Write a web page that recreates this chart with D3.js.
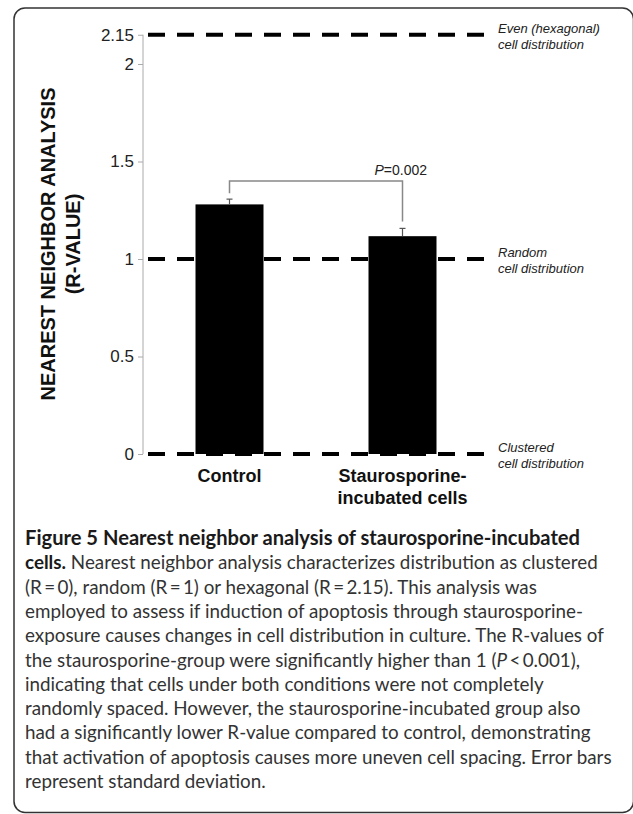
<!DOCTYPE html>
<html>
<head>
<meta charset="utf-8">
<script src="https://cdn.jsdelivr.net/npm/d3@7"></script>
<style>
  body { margin: 0; background: #fff; }
  svg { display: block; }
</style>
</head>
<body>
<div id="chart"></div>
<script>
// data
var categories = ["Control", "Staurosporine-\nincubated cells"];
var means = [1.28, 1.117];
var sds = [0.027, 0.04];
var refValues = [2.15, 1, 0];
var refLabels = [["Even (hexagonal)", "cell distribution"], ["Random", "cell distribution"], ["Clustered", "cell distribution"]];
var tickValues = [0, 0.5, 1, 1.5, 2, 2.15];
var pText = "0.002";
var bracketLevel = 1.40;

var width = 633,
    height = 814

var svg = d3.select("#chart").append("svg")
    .attr("width", width)
    .attr("height", height)

// frame (right side runs off the page like the original scan)
svg.append("rect")
    .attr("x", 14)
    .attr("y", 8)
    .attr("width", 619.5)
    .attr("height", 804.5)
    .attr("rx", 11)
    .attr("fill", "none")
    .attr("stroke", "#333")
    .attr("stroke-width", 1.5)

var y = d3.scaleLinear().domain([0, 1]).range([454, 259]);
var x = d3.scaleBand().domain(categories).range([143, 489])
    .paddingInner(0.607).paddingOuter(0.3035);

var chart = svg.append("g")

// y axis
var yAxis = chart.append("g")
    .attr("transform", "translate(143,0)")
    .call(d3.axisLeft(y).tickValues(tickValues).tickSize(5).tickPadding(4)
        .tickFormat(function(d) { return d === 2.15 ? "2.15" : String(d); }))
yAxis.select(".domain").attr("stroke", "#aaa").attr("d", "M-0," + y(2.15) + "V" + y(0))
yAxis.selectAll(".tick line").attr("stroke", "#aaa")
yAxis.selectAll(".tick text")
    .attr("font-family", "Liberation Sans, Arial, sans-serif")
    .attr("font-size", 17)
    .attr("fill", "#222")

// reference dashed lines
chart.selectAll(".ref").data(refValues).enter().append("line")
    .attr("class", "ref")
    .attr("x1", 148)
    .attr("x2", 486)
    .attr("y1", function(d) { return y(d); })
    .attr("y2", function(d) { return y(d); })
    .attr("stroke", "#000")
    .attr("stroke-width", 4)
    .attr("stroke-dasharray", "17,12")

refValues.forEach(function(v, i) {
    var t = chart.append("text")
        .attr("x", 498)
        .attr("font-family", "Liberation Sans, Arial, sans-serif")
        .attr("font-style", "italic")
        .attr("font-size", 13)
        .attr("fill", "#222")
    t.append("tspan").attr("x", 498).attr("y", y(v) - 2).text(refLabels[i][0])
    t.append("tspan").attr("x", 498).attr("y", y(v) + 14).text(refLabels[i][1])
});

// bars
chart.selectAll(".bar").data(means).enter().append("rect")
    .attr("class", "bar")
    .attr("x", function(d, i) { return x(categories[i]); })
    .attr("y", function(d) { return y(d); })
    .attr("width", x.bandwidth())
    .attr("height", function(d) { return y(0) - y(d); })
    .attr("fill", "#000")

// error bars
means.forEach(function(m, i) {
    var cx = x(categories[i]) + x.bandwidth() / 2;
    chart.append("line")
        .attr("x1", cx).attr("x2", cx)
        .attr("y1", y(m)).attr("y2", y(m + sds[i]))
        .attr("stroke", "#555").attr("stroke-width", 1.2)
    chart.append("line")
        .attr("x1", cx - 3).attr("x2", cx + 3)
        .attr("y1", y(m + sds[i])).attr("y2", y(m + sds[i]))
        .attr("stroke", "#555").attr("stroke-width", 1.2)
});

// significance bracket
var c0 = x(categories[0]) + x.bandwidth() / 2,
    c1 = x(categories[1]) + x.bandwidth() / 2,
    bracketY = y(bracketLevel)
chart.append("path")
    .attr("d", "M" + c0 + "," + (y(means[0] + sds[0]) - 6) + "V" + bracketY + "H" + c1 + "V" + (y(means[1] + sds[1]) - 7))
    .attr("fill", "none")
    .attr("stroke", "#888")
    .attr("stroke-width", 1.5)

var p = chart.append("text")
    .attr("x", 427)
    .attr("y", bracketY - 6)
    .attr("text-anchor", "end")
    .attr("font-family", "Liberation Sans, Arial, sans-serif")
    .attr("font-size", 14)
    .attr("fill", "#222")
p.append("tspan").attr("font-style", "italic").text("P")
p.append("tspan").text("=" + pText)

// category labels
categories.forEach(function(c) {
    var cx = x(c) + x.bandwidth() / 2;
    var t = chart.append("text")
        .attr("text-anchor", "middle")
        .attr("font-family", "Liberation Sans, Arial, sans-serif")
        .attr("font-weight", "bold")
        .attr("font-size", 18)
        .attr("fill", "#111")
    c.split("\n").forEach(function(s, j) {
        t.append("tspan").attr("x", cx).attr("y", 482 + j * 22).text(s)
    });
});

// y axis title
var yt = chart.append("text")
    .attr("transform", "translate(0,244) rotate(-90)")
    .attr("text-anchor", "middle")
    .attr("font-family", "Liberation Sans, Arial, sans-serif")
    .attr("font-weight", "bold")
    .attr("font-size", 20)
    .attr("fill", "#111")
yt.append("tspan").attr("x", 0).attr("y", 55).text("NEAREST NEIGHBOR ANALYSIS")
yt.append("tspan").attr("x", 0).attr("y", 80).text("(R-VALUE)")

// caption
var caption = [
    [["b", "Figure 5 Nearest neighbor analysis of staurosporine-incubated"]],
    [["b", "cells."], ["r", " Nearest neighbor analysis characterizes distribution as clustered"]],
    [["r", "(R\u2009=\u20090), random (R\u2009=\u20091) or hexagonal (R\u2009=\u20092.15). This analysis was"]],
    [["r", "employed to assess if induction of apoptosis through staurosporine-"]],
    [["r", "exposure causes changes in cell distribution in culture. The R-values of"]],
    [["r", "the staurosporine-group were significantly higher than 1 ("], ["i", "P"], ["r", "\u2009<\u20090.001),"]],
    [["r", "indicating that cells under both conditions were not completely"]],
    [["r", "randomly spaced. However, the staurosporine-incubated group also"]],
    [["r", "had a significantly lower R-value compared to control, demonstrating"]],
    [["r", "that activation of apoptosis causes more uneven cell spacing. Error bars"]],
    [["r", "represent standard deviation."]]
];

var cap = svg.append("g")
    .attr("font-family", "Lato, 'Open Sans', sans-serif")
    .attr("font-size", 18)

var capLines = cap.selectAll("text").data(caption).enter().append("text")
    .attr("x", 25)
    .attr("y", function(d, i) { return 545 + i * 24.3; })
    .attr("fill", "#333")

capLines.each(function(line) {
    var t = d3.select(this)
    line.forEach(function(seg) {
        var s = t.append("tspan").text(seg[1])
        if (seg[0] === "b") s.attr("font-weight", "bold").attr("fill", "#1a1a1a")
        if (seg[0] === "i") s.attr("font-style", "italic")
    });
});

// fit caption width to the figure column
var widest = capLines.nodes()[9].getComputedTextLength();
cap.attr("font-size", 18 * 587 / widest)
var head = capLines.filter(function(d, i) { return i === 0; })
var headW = head.node().getComputedTextLength();
head.attr("font-size", 18 * 587 / widest * 555 / headW)
</script>
</body>
</html>
